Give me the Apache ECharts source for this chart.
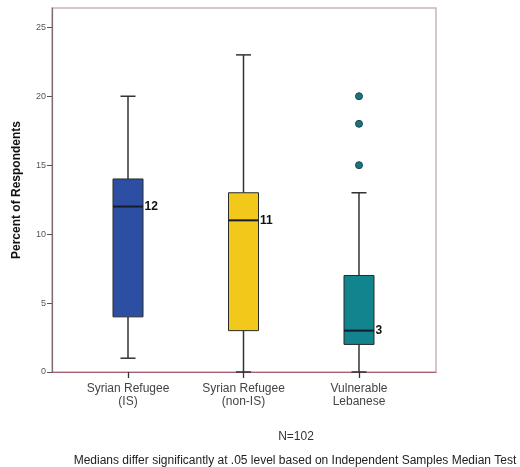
<!DOCTYPE html>
<html><head><meta charset="utf-8">
<script src="https://cdn.jsdelivr.net/npm/echarts@6/dist/echarts.min.js"></script>
<style>html,body{margin:0;padding:0;background:#fff}#c{width:520px;height:467px}</style>
</head><body><div id="c"></div>
<script>
var categories = ['Syrian Refugee\n(IS)', 'Syrian Refugee\n(non-IS)', 'Vulnerable\nLebanese'];
// [min whisker, Q1, median, Q3, max whisker]
var boxLow = [1, 0, 0];
var boxQ1 = [4, 3, 2];
var boxMedian = [12, 11, 3];
var boxQ3 = [14, 13, 7];
var boxHigh = [20, 23, 13];
var boxColors = ['#2d4fa3', '#f2c81a', '#11848e'];
var outlierCat = [2, 2, 2];
var outlierVal = [20, 18, 15];
var yTicks = [0, 5, 10, 15, 20, 25];

var boxData = categories.map(function (c, i) {
  return [i, boxLow[i], boxQ1[i], boxMedian[i], boxQ3[i], boxHigh[i]];
});
var outData = outlierCat.map(function (c, i) { return [c, outlierVal[i]]; });

var chart = echarts.init(document.getElementById('c'), null, {renderer: 'canvas'});
var font = 'Liberation Sans, Arial, sans-serif';
var option = {
  animation: false,
  grid: [
    {left: 52, top: 8, width: 384, height: 364, show: true, borderColor: '#c9b3ba', borderWidth: 1.5, backgroundColor: '#fff'},
    {left: 70.25, top: 8, width: 346.5, height: 364}
  ],
  xAxis: [
    {type: 'category', gridIndex: 0, data: ['a'], axisLine: {show: true, lineStyle: {color: '#a5606e', width: 1.2}},
     axisTick: {show: false}, axisLabel: {show: false}},
    {type: 'category', gridIndex: 1, data: categories, axisLine: {show: false},
     axisTick: {show: true, alignWithLabel: true, length: 6, lineStyle: {color: '#333', width: 1.3}},
     axisLabel: {color: '#444', fontFamily: font, fontSize: 12, lineHeight: 13, margin: 10}}
  ],
  yAxis: [
    {type: 'value', gridIndex: 0, min: 0, max: 26.4, interval: 5,
     name: 'Percent of Respondents', nameLocation: 'middle', nameGap: 29,
     nameTextStyle: {fontFamily: font, fontSize: 12, fontWeight: 'bold', color: '#111'},
     axisLine: {show: true, lineStyle: {color: '#7d6a72', width: 1.2}},
     axisTick: {show: true, length: 5, lineStyle: {color: '#555'}},
     axisLabel: {showMaxLabel: false, color: '#555', fontFamily: font, fontSize: 9, margin: 6,
       formatter: function (v) { return yTicks.indexOf(v) >= 0 ? String(v) : ''; }},
     splitLine: {show: false}},
    {type: 'value', gridIndex: 1, min: 0, max: 26.4, show: false, splitLine: {show: false}}
  ],
  title: [
    {text: 'N=102', left: 291, top: 426, textAlign: 'center',
     textStyle: {fontFamily: font, fontSize: 12, fontWeight: 'normal', color: '#333'}},
    {text: 'Medians differ significantly at .05 level based on Independent Samples Median Test', left: 290, top: 450, textAlign: 'center',
     textStyle: {fontFamily: font, fontSize: 12, fontWeight: 'normal', color: '#222'}}
  ],
  series: [
    {
      type: 'custom', xAxisIndex: 1, yAxisIndex: 1, data: boxData,
      encode: {x: 0, y: [1, 2, 3, 4, 5]},
      renderItem: function (params, api) {
        var i = api.value(0);
        var lo = api.coord([i, api.value(1)]);
        var q1 = api.coord([i, api.value(2)]);
        var md = api.coord([i, api.value(3)]);
        var q3 = api.coord([i, api.value(4)]);
        var hi = api.coord([i, api.value(5)]);
        var cx = lo[0], hw = 15, cw = 7.5;
        var ls = {stroke: '#333', lineWidth: 1.5};
        return {type: 'group', children: [
          {type: 'line', shape: {x1: cx, y1: hi[1], x2: cx, y2: q3[1]}, style: ls},
          {type: 'line', shape: {x1: cx, y1: q1[1], x2: cx, y2: lo[1]}, style: ls},
          {type: 'line', shape: {x1: cx - cw, y1: hi[1], x2: cx + cw, y2: hi[1]}, style: ls},
          {type: 'line', shape: {x1: cx - cw, y1: lo[1], x2: cx + cw, y2: lo[1]}, style: ls},
          {type: 'rect', shape: {x: cx - hw, y: q3[1], width: 2 * hw, height: q1[1] - q3[1]},
           style: {fill: boxColors[i], stroke: '#2a2a2a', lineWidth: 1}},
          {type: 'line', shape: {x1: cx - hw, y1: md[1], x2: cx + hw, y2: md[1]}, style: {stroke: '#1a1a2a', lineWidth: 2}},
          {type: 'text', x: cx + hw + 1.5, y: md[1], style: {text: String(boxMedian[i]), fill: '#111',
            font: 'bold 12px ' + font, textVerticalAlign: 'middle', verticalAlign: 'middle'}}
        ]};
      }
    },
    {
      type: 'scatter', xAxisIndex: 1, yAxisIndex: 1, data: outData, symbolSize: 7,
      itemStyle: {color: '#1b737d', borderColor: '#174a55', borderWidth: 1, opacity: 1}
    }
  ]
};
chart.setOption(option);
</script></body></html>
